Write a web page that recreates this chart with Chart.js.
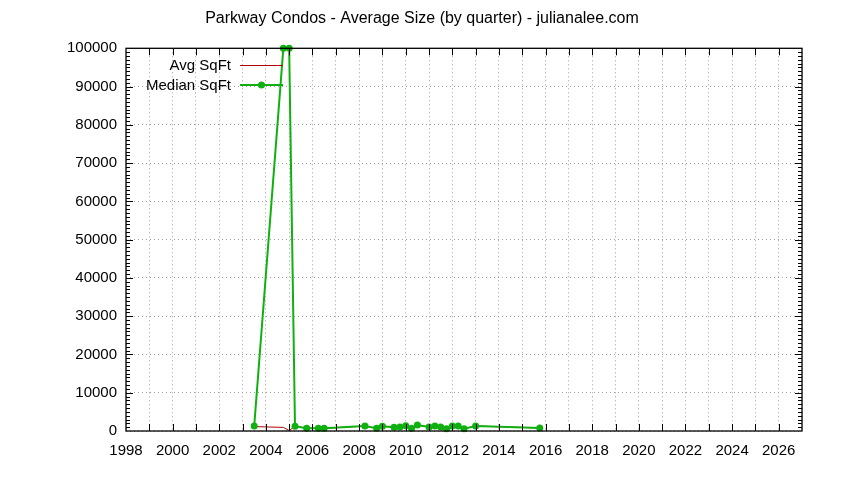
<html>
    <head>
        <script src="https://cdn.jsdelivr.net/npm/chart.js@4"></script>
        <style>
            body { margin: 0; background: #fff; }
            #wrap { width: 844px; height: 480px; }
        </style>
    </head>
    <body>
        <div id="wrap"><canvas id="myChart"></canvas></div>

        <script>
            // quarter (decimal year) and sizes
            var quarters = [2003.5, 2004.75, 2005.0, 2005.25, 2005.75, 2006.25, 2006.5, 2008.25, 2008.75, 2009.0,
                            2009.5, 2009.75, 2010.0, 2010.25, 2010.5, 2011.0, 2011.25, 2011.5, 2011.75, 2012.0,
                            2012.25, 2012.5, 2013.0, 2015.75];
            var avgSqft = [1150, 950, 100, 1250, 700, 700, 700, 1300, 700, 1250,
                           950, 1050, 1400, 700, 1550, 1050, 1300, 1050, 600, 1300,
                           1300, 600, 1300, 800];
            var medianSqft = [1300, 100000, 100000, 1250, 700, 700, 700, 1300, 700, 1250,
                              950, 1050, 1400, 700, 1550, 1050, 1300, 1050, 600, 1300,
                              1300, 600, 1300, 800];
            var seriesNames = ['Avg SqFt', 'Median SqFt'];
            var chartTitle = 'Parkway Condos - Average Size (by quarter) - julianalee.com';
            var yearMin = 1998, yearMax = 2027;
            var sizeMax = 100000;

            var FONT = '"Liberation Sans", Arial, sans-serif';
            var RED = '#b00000';
            var GREEN = '#10b010';

            function points(vals) {
                return quarters.map(function (q, i) { return { x: q, y: vals[i] }; });
            }

            // gnuplot style frame: title, border, inward ticks, minor ticks, legend
            var framePlugin = {
                id: 'frame',
                afterDatasetsDraw: function (chart) {
                    var ctx = chart.ctx, a = chart.chartArea;
                    var xs = chart.scales.x, ys = chart.scales.y;
                    ctx.save();
                    // title centred on the whole canvas, like gnuplot does
                    ctx.font = '16px ' + FONT;
                    ctx.fillStyle = '#000';
                    ctx.textAlign = 'center';
                    ctx.textBaseline = 'middle';
                    ctx.fillText(chartTitle, chart.width / 2, 18.5);

                    ctx.strokeStyle = '#000';
                    ctx.lineWidth = 1;
                    ctx.beginPath();
                    for (var yr = yearMin + 1; yr < yearMax; yr++) {
                        var px = Math.round(xs.getPixelForValue(yr)) + 0.5;
                        ctx.moveTo(px, a.bottom); ctx.lineTo(px, a.bottom - 7);
                        ctx.moveTo(px, a.top); ctx.lineTo(px, a.top + 7);
                    }
                    for (var v = 1000; v < sizeMax; v += 1000) {
                        var py = Math.round(ys.getPixelForValue(v)) + 0.5;
                        var len = (v % 10000 === 0) ? 7 : 4;
                        ctx.moveTo(a.left, py); ctx.lineTo(a.left + len, py);
                        ctx.moveTo(a.right, py); ctx.lineTo(a.right - len, py);
                    }
                    ctx.stroke();
                    ctx.lineWidth = 1.3;
                    ctx.strokeRect(a.left, a.top, a.right - a.left, a.bottom - a.top);

                    // legend, top left inside the plot
                    ctx.font = '15px ' + FONT;
                    ctx.textAlign = 'right';
                    ctx.fillText(seriesNames[0], 231, 66);
                    ctx.fillText(seriesNames[1], 231, 86);
                    ctx.lineWidth = 1;
                    ctx.strokeStyle = RED;
                    ctx.beginPath(); ctx.moveTo(240, 65.5); ctx.lineTo(283, 65.5); ctx.stroke();
                    ctx.lineWidth = 2;
                    ctx.strokeStyle = GREEN;
                    ctx.beginPath(); ctx.moveTo(240, 85); ctx.lineTo(283, 85); ctx.stroke();
                    ctx.fillStyle = GREEN;
                    ctx.beginPath(); ctx.arc(261.5, 85, 3.5, 0, Math.PI * 2); ctx.fill();
                    ctx.restore();
                }
            };

            var ctx = document.getElementById('myChart').getContext('2d');
            var chart = new Chart(ctx, {
                type: 'line',
                data: {
                    datasets: [{
                        label: seriesNames[0],
                        data: points(avgSqft),
                        borderColor: RED,
                        borderWidth: 1,
                        pointRadius: 0,
                        tension: 0,
                        order: 2,
                        clip: 6
                    }, {
                        label: seriesNames[1],
                        data: points(medianSqft),
                        borderColor: GREEN,
                        backgroundColor: GREEN,
                        borderWidth: 2,
                        pointRadius: 3.5,
                        pointBorderWidth: 0,
                        tension: 0,
                        order: 1,
                        clip: 6
                    }]
                },
                options: {
                    responsive: true,
                    maintainAspectRatio: false,
                    animation: false,
                    layout: { padding: { left: 0, right: 42, top: 48.3, bottom: 0 } },
                    plugins: {
                        legend: { display: false },
                        tooltip: { enabled: false },
                        title: { display: false }
                    },
                    scales: {
                        x: {
                            type: 'linear',
                            min: yearMin,
                            max: yearMax,
                            afterFit: function (s) { s.height = 49; },
                            ticks: {
                                stepSize: 1,
                                autoSkip: false,
                                maxRotation: 0,
                                padding: 11,
                                color: '#000',
                                font: { family: FONT, size: 15 },
                                callback: function (v) { return (v % 2 === 0 && v < yearMax) ? String(v) : ''; }
                            },
                            grid: { color: '#a0a0a0', drawTicks: false, tickLength: 0 },
                            border: { display: false, dash: [1, 3] }
                        },
                        y: {
                            min: 0,
                            max: sizeMax,
                            afterFit: function (s) { s.width = 126; },
                            ticks: {
                                stepSize: 10000,
                                padding: 9,
                                color: '#000',
                                font: { family: FONT, size: 15 },
                                callback: function (v) { return String(v); }
                            },
                            grid: { color: '#a0a0a0', drawTicks: false, tickLength: 0 },
                            border: { display: false, dash: [1, 3] }
                        }
                    }
                },
                plugins: [framePlugin]
            });
        </script>
    </body>
</html>
